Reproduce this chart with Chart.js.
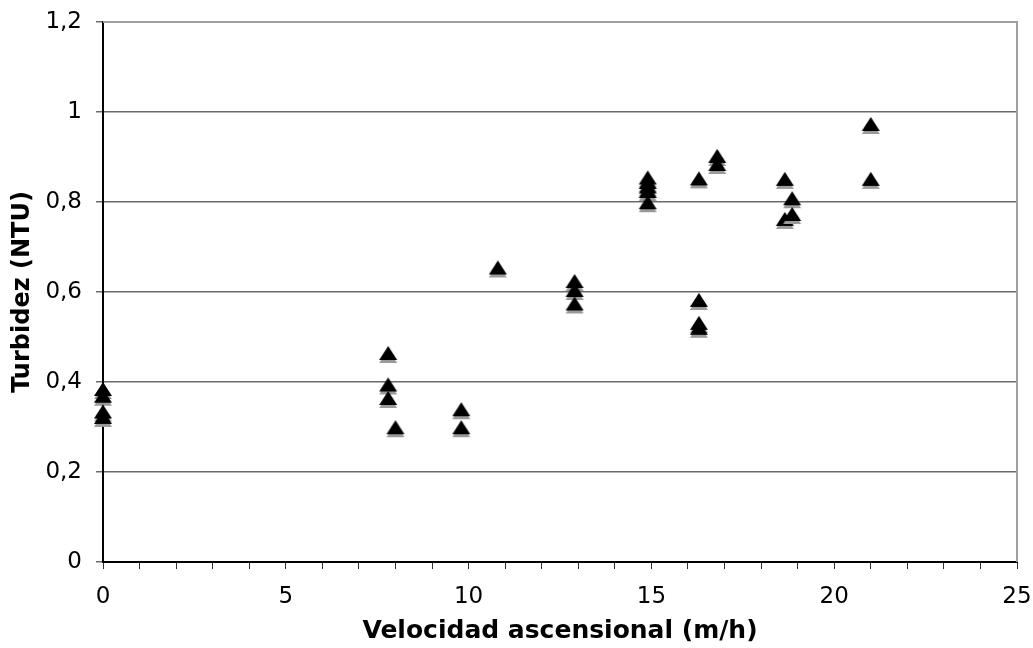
<!DOCTYPE html>
<html>
<head>
<meta charset="utf-8">
<script src="https://cdn.jsdelivr.net/npm/chart.js@4/dist/chart.umd.min.js"></script>
<style>
  html, body { margin: 0; padding: 0; background: #fff; }
  #wrap { width: 1033px; height: 648px; }
</style>
</head>
<body>
<div id="wrap"><canvas id="turbidez"></canvas></div>
<script>
// values
const velocidad = [0, 0, 0, 0, 7.8, 7.8, 7.8, 8.0, 9.8, 9.8, 10.8, 12.9, 12.9, 12.9,
  14.9, 14.9, 14.9, 14.9, 14.9, 16.3, 16.3, 16.3, 16.3, 16.8, 16.8,
  18.65, 18.65, 18.85, 18.85, 21.0, 21.0];
const turbidez = [0.38, 0.365, 0.33, 0.318, 0.46, 0.39, 0.36, 0.295, 0.335, 0.295, 0.65, 0.62, 0.60, 0.57,
  0.85, 0.84, 0.83, 0.82, 0.795, 0.848, 0.578, 0.527, 0.516, 0.898, 0.88,
  0.847, 0.758, 0.804, 0.769, 0.969, 0.847];
const yTicks = [0, 0.2, 0.4, 0.6, 0.8, 1, 1.2];
const xTicks = [0, 5, 10, 15, 20, 25];

const points = velocidad.map((v, i) => ({ x: v, y: turbidez[i] }));

// triangle marker with the grey shadow under it
const marker = document.createElement('canvas');
marker.width = 20;
marker.height = 20;
const mctx = marker.getContext('2d');
function tri(ctx, dy, color) {
  ctx.fillStyle = color;
  ctx.beginPath();
  ctx.moveTo(10, 1 + dy);
  ctx.lineTo(19, 15 + dy);
  ctx.lineTo(1, 15 + dy);
  ctx.closePath();
  ctx.fill();
}
tri(mctx, 3, '#9a9a9a');
tri(mctx, 0, '#000');

const family = 'Verdana, "DejaVu Sans", sans-serif';
const tickFont = { family: family, size: 23 };
const titleFont = { family: family, size: 24, weight: 'bold' };

const frame = {
  id: 'frame',
  afterDraw(chart) {
    const { ctx, chartArea: a } = chart;
    ctx.save();
    ctx.strokeStyle = '#a0a0a0';
    ctx.lineWidth = 2;
    ctx.beginPath();
    ctx.moveTo(a.left, a.top);
    ctx.lineTo(a.right, a.top);
    ctx.lineTo(a.right, a.bottom);
    ctx.stroke();
    ctx.restore();
  }
};

new Chart(document.getElementById('turbidez'), {
  type: 'scatter',
  data: {
    datasets: [{
      data: points,
      pointStyle: marker,
      pointRadius: 10,
      clip: false
    }]
  },
  options: {
    responsive: true,
    maintainAspectRatio: false,
    animation: false,
    layout: { padding: { top: 22, right: 16, left: 0, bottom: 0 } },
    plugins: { legend: { display: false }, tooltip: { enabled: false } },
    scales: {
      x: {
        type: 'linear',
        min: 0,
        max: 25,
        afterBuildTicks: s => { s.ticks = Array.from({ length: 26 }, (_, i) => ({ value: i })); },
        afterFit: s => { s.height = 86; s.paddingLeft = 0; s.paddingRight = 0; },
        border: { color: '#000', width: 2 },
        grid: { drawOnChartArea: false, drawTicks: true, tickLength: 7, color: '#333' },
        ticks: {
          autoSkip: false,
          maxRotation: 0,
          padding: 14,
          color: '#000',
          font: tickFont,
          callback: v => (xTicks.includes(v) ? String(v) : '')
        },
        title: {
          display: true,
          text: 'Velocidad ascensional (m/h)',
          color: '#000',
          font: { family: family, size: 25, weight: 'bold' },
          padding: { top: 0, bottom: 2 }
        }
      },
      y: {
        min: 0,
        max: 1.2,
        afterBuildTicks: s => { s.ticks = yTicks.map(v => ({ value: v })); },
        afterFit: s => { s.width = 103; s.paddingTop = 0; s.paddingBottom = 0; },
        border: { color: '#000', width: 2 },
        grid: { color: '#6a6a6a', lineWidth: 1.5, tickLength: 7 },
        ticks: {
          padding: 14,
          color: '#000',
          font: tickFont,
          callback: v => String(Math.round(v * 10) / 10).replace('.', ',')
        },
        title: {
          display: true,
          text: 'Turbidez (NTU)',
          color: '#000',
          font: titleFont,
          padding: { top: 8, bottom: 0 }
        }
      }
    }
  },
  plugins: [frame]
});
</script>
</body>
</html>
